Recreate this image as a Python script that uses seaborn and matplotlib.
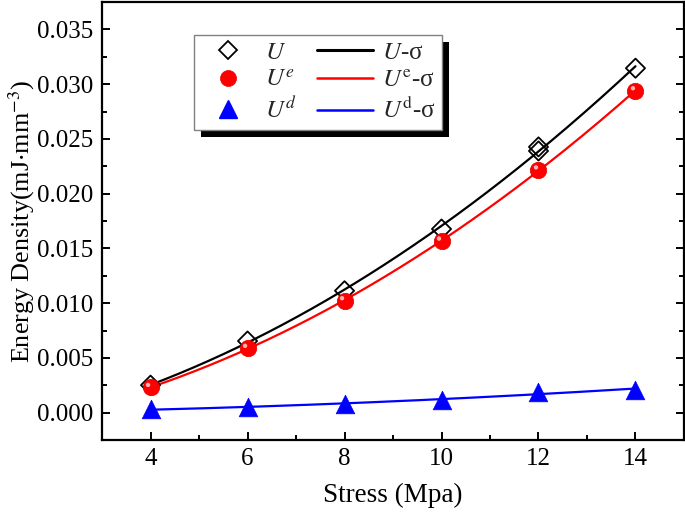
import numpy as np
import pandas as pd
import matplotlib
matplotlib.use("Agg")
import matplotlib.pyplot as plt
import seaborn as sns
from matplotlib.lines import Line2D
from matplotlib.patches import Rectangle
from matplotlib.transforms import IdentityTransform, offset_copy
from matplotlib.ticker import MultipleLocator, FormatStrFormatter

# ---- data ----
stress_U = [4, 6, 8, 10, 12, 12, 14]
U = [0.00251, 0.00654, 0.01113, 0.01677, 0.02427, 0.02390, 0.03146]
stress = [4, 6, 8, 10, 12, 14]
Ue = [0.00230, 0.00587, 0.01022, 0.01567, 0.02217, 0.02940]
Ud = [0.00030, 0.00050, 0.00080, 0.00115, 0.00190, 0.00210]

sns.set_theme(style="white")
plt.rcParams["font.family"] = ["Liberation Serif", "DejaVu Serif"]
plt.rcParams["mathtext.fontset"] = "stix"

fig = plt.figure(figsize=(6.85, 5.14), dpi=100)
ax = fig.add_axes([0.149, 0.144, 0.8495, 0.852])

# fitted curves (quadratic fits of the data)
xs = np.linspace(4, 14, 200)
for xv, yv, col in [(stress_U, U, "black"), (stress, Ue, "red"), (stress, Ud, "blue")]:
    c = np.polyfit(xv, yv, 2)
    df = pd.DataFrame({"x": xs, "y": np.polyval(c, xs)})
    sns.lineplot(data=df, x="x", y="y", ax=ax, color=col, lw=1.6, zorder=2)

# markers
dU = pd.DataFrame({"x": stress_U, "y": U})
dE = pd.DataFrame({"x": stress, "y": Ue})
dD = pd.DataFrame({"x": stress, "y": Ud})
sns.scatterplot(data=dU, x="x", y="y", ax=ax, marker="D", s=95,
                facecolor="none", edgecolor="black", linewidth=1.3, zorder=3)
sns.scatterplot(data=dE, x="x", y="y", ax=ax, marker="o", s=140,
                color="#ff0000", edgecolor="#e00000", linewidth=0.5, zorder=4)
# soft highlight for the sphere-like look
n_before = len(ax.collections)
sns.scatterplot(data=dE, x="x", y="y", ax=ax, marker="o", s=10,
                color="white", edgecolor="none", alpha=0.7, zorder=4.5)
ax.collections[n_before].set_offset_transform(
    offset_copy(ax.transData, fig=fig, x=-1.8, y=1.8, units="points"))
sns.scatterplot(data=dD, x="x", y="y", ax=ax, marker="^", s=180,
                color="#0000ff", edgecolor="#0000ff", linewidth=0.5, zorder=4)

ax.set_xlim(3, 15)
ax.set_ylim(-0.0025, 0.0375)
ax.set_xticks([4, 6, 8, 10, 12, 14])
ax.xaxis.set_minor_locator(MultipleLocator(1))
ax.set_yticks(np.arange(0, 0.0351, 0.005))
ax.yaxis.set_minor_locator(MultipleLocator(0.0025))
ax.yaxis.set_major_formatter(FormatStrFormatter("%.3f"))

for s in ax.spines.values():
    s.set_linewidth(1.6)
    s.set_color("black")
ax.tick_params(axis="both", which="both", direction="in", colors="black",
               labelsize=18, width=1.4, top=False, right=True, left=True, bottom=True)
ax.tick_params(which="major", length=6, pad=6)
ax.tick_params(which="minor", length=3.5)

ax.set_xlabel("Stress (Mpa)", fontsize=19.5, color="black", labelpad=9)
ax.set_ylabel(r"Energy Density(mJ$\cdot$mm$^{-3}$)", fontsize=18.8, color="black", labelpad=0)

handles = [
    Line2D([], [], ls="none", marker="D", ms=9.5, mfc="none", mec="black", mew=1.3),
    Line2D([], [], ls="none", marker="o", ms=11.5, mfc="red", mec="#e00000", mew=0.5),
    Line2D([], [], ls="none", marker="^", ms=13, mfc="blue", mec="blue"),
    Line2D([], [], color="black", lw=2.2),
    Line2D([], [], color="red", lw=1.8),
    Line2D([], [], color="blue", lw=1.8),
]
labels = [r"$U$", r"$U^e$", r"$U^d$",
          r"$U$-σ", r"$U^{\mathrm{e}}$-σ", r"$U^{\mathrm{d}}$-σ"]
leg = ax.legend(handles, labels, ncol=2, loc="upper left",
                bbox_to_anchor=(0.158, 0.925), fontsize=18, frameon=True,
                fancybox=False, edgecolor="#808080", framealpha=1,
                borderpad=0.25, handlelength=2.25, handletextpad=0.35,
                columnspacing=0.8, labelspacing=0.22, borderaxespad=0)
leg.get_frame().set_linewidth(1.0)
leg.set_zorder(6)

fig.canvas.draw()
bb = leg.get_window_extent()
shadow = Rectangle((bb.x0 + 7, bb.y0 - 7), bb.width, bb.height,
                   transform=IdentityTransform(), facecolor="black",
                   edgecolor="none", zorder=5.5)
ax.add_artist(shadow)

fig.savefig("out.png", dpi=100)
